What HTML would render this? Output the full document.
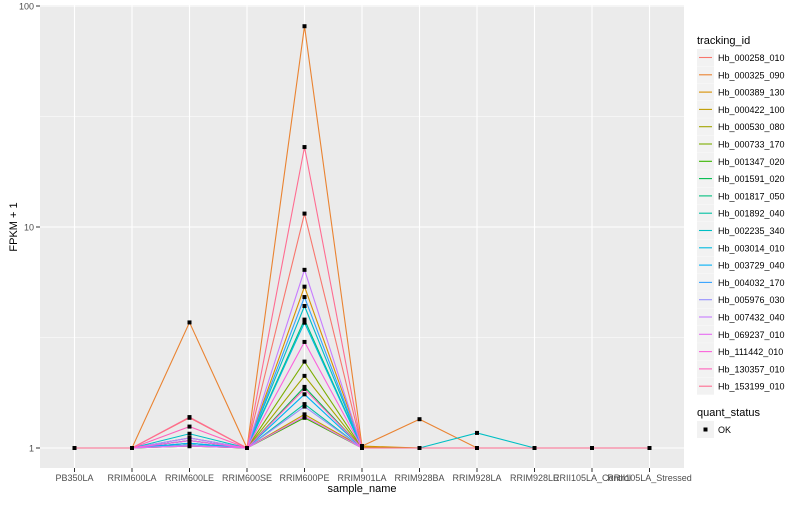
<!DOCTYPE html>
<html><head><meta charset="utf-8"><style>
body{margin:0;background:#fff;font-family:"Liberation Sans",sans-serif}
svg text{font-family:"Liberation Sans",sans-serif}
</style></head><body>
<svg id="chart" width="800" height="500">
<rect x="40" y="5" width="644" height="463" fill="#EBEBEB"/>
<g id="grid"></g><g id="lines"></g><g id="pts"></g><g id="axes"></g><g id="legend"></g>
</svg>
<script>
const categories=["PB350LA","RRIM600LA","RRIM600LE","RRIM600SE","RRIM600PE","RRIM901LA","RRIM928BA","RRIM928LA","RRIM928LE","RRII105LA_Control","RRII105LA_Stressed"];
const ids=["Hb_000258_010","Hb_000325_090","Hb_000389_130","Hb_000422_100","Hb_000530_080","Hb_000733_170","Hb_001347_020","Hb_001591_020","Hb_001817_050","Hb_001892_040","Hb_002235_340","Hb_003014_010","Hb_003729_040","Hb_004032_170","Hb_005976_030","Hb_007432_040","Hb_069237_010","Hb_111442_010","Hb_130357_010","Hb_153199_010"];
const colors=["#F8766D","#EA8331","#D89000","#C09B00","#A3A500","#7CAE00","#39B600","#00BB4E","#00BF7D","#00C1A3","#00BFC4","#00BAE0","#00B0F6","#35A2FF","#9590FF","#C77CFF","#E76BF3","#FA62DB","#FF62BC","#FF6C91"];
const valLE=[1.37,3.7,1.08,1.05,1.03,1.02,1.02,1.03,1.11,1.08,1.16,1.05,1.05,1.08,1.03,1.11,1.02,1.08,1.25,1.38];
const valPE=[11.5,81,5.37,1.42,2.12,2.46,1.37,1.89,3.81,1.58,4.39,3.69,1.75,4.82,1.54,6.4,1.39,3.02,1.85,23];
const val901=[1,1.02,1.02,1.01,1,1,1,1,1,1,1,1,1,1,1,1,1,1,1,1];
const val928BA=[1,1.35,1,1,1,1,1,1,1,1,1,1,1,1,1,1,1,1,1,1];
const val928LA=[1,1,1,1,1,1,1,1,1,1,1.17,1,1,1,1,1,1,1,1,1];
const yTicks=[1,10,100];
const NS="http://www.w3.org/2000/svg";
function mk(p,t,a){const e=document.createElementNS(NS,t);for(const k in a)e.setAttribute(k,a[k]);p.appendChild(e);return e;}
const px0=40,px1=684,step=(px1-px0)/(categories.length-1+1.2);
const X=i=>px0+0.6*step+i*step;
const Y=v=>448-221*Math.log10(v);
const grid=document.getElementById('grid'),axes=document.getElementById('axes');
[Math.sqrt(10),Math.sqrt(1000)].forEach(v=>{const l=mk(grid,'line',{x1:px0,x2:px1,y1:Y(v),y2:Y(v),stroke:'#fff','stroke-width':0.5});

});
yTicks.forEach(v=>{const l=mk(grid,'line',{x1:px0,x2:px1,y1:Y(v),y2:Y(v),stroke:'#fff','stroke-width':1.1});


mk(axes,'line',{x1:36,x2:40,y1:Y(v),y2:Y(v),stroke:'#333'});
const t=mk(axes,'text',{x:34,y:Y(v)+3.5,'text-anchor':'end','font-size':9,fill:'#4d4d4d'});t.textContent=v;

});
categories.forEach((c,i)=>{const l=mk(grid,'line',{x1:X(i),x2:X(i),y1:5,y2:468,stroke:'#fff','stroke-width':1.1});


mk(axes,'line',{x1:X(i),x2:X(i),y1:468,y2:472,stroke:'#333'});
const t=mk(axes,'text',{x:X(i),y:481,'text-anchor':'middle','font-size':9,fill:'#4d4d4d'});t.textContent=c;

});
let t=mk(axes,'text',{x:362,y:492,'text-anchor':'middle','font-size':11,fill:'#000'});t.textContent='sample_name';


t=mk(axes,'text',{x:0,y:0,'text-anchor':'middle','font-size':11,fill:'#000',transform:'translate(17,227) rotate(-90)'});t.textContent='FPKM + 1';


const lines=document.getElementById('lines'),pts=document.getElementById('pts');
ids.forEach((id,s)=>{
 const vals=[1,1,valLE[s],1,valPE[s],val901[s],val928BA[s],val928LA[s],1,1,1];
 const p=mk(lines,'polyline',{points:vals.map((v,i)=>X(i)+','+Y(v)).join(' '),fill:'none',stroke:colors[s],'stroke-width':1.1});
 
 
 vals.forEach((v,i)=>{const r=mk(pts,'rect',{x:X(i)-2,y:Y(v)-2,width:4,height:4,fill:'#000'});
 
 });
});
const lg=document.getElementById('legend');
t=mk(lg,'text',{x:697,y:44,'font-size':11});t.textContent='tracking_id';


ids.forEach((id,s)=>{const y=49+s*17.3;
 const g=mk(lg,'g',{});
 
 
 mk(g,'rect',{x:697,y:y,width:17,height:17,fill:'#F2F2F2'});
 mk(g,'line',{x1:699,x2:712,y1:y+8.5,y2:y+8.5,stroke:colors[s],'stroke-width':1.1});
 const tt=mk(g,'text',{x:718,y:y+12,'font-size':9,fill:'#000'});tt.textContent=id;});
t=mk(lg,'text',{x:697,y:416,'font-size':11});t.textContent='quant_status';


const g2=mk(lg,'g',{});


mk(g2,'rect',{x:697,y:421,width:17,height:17,fill:'#F2F2F2'});
mk(g2,'rect',{x:703.5,y:427.5,width:4,height:4,fill:'#000'});
t=mk(g2,'text',{x:718,y:433,'font-size':9});t.textContent='OK';
</script>
</body></html>
